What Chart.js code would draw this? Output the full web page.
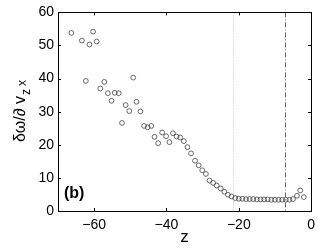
<!DOCTYPE html>
<html>
<head>
<meta charset="utf-8">
<script src="https://cdn.jsdelivr.net/npm/chart.js@4/dist/chart.umd.min.js"></script>
<style>
  html, body { margin: 0; padding: 0; background: #fff; }
  #wrap { width: 321px; height: 249px; }
</style>
</head>
<body>
<div id="wrap"><canvas id="myChart" width="321" height="249"></canvas></div>
<script>
// z positions
const zValues = [-66.3, -63.4, -62.3, -61.3, -60.3, -59.3, -58.3, -57.2, -56.2, -55.2,
  -54.3, -53.2, -52.3, -51.3, -50.3, -49.2, -48.3, -47.2, -46.2, -45.2,
  -44.2, -43.3, -42.3, -41.2, -40.1, -39.2, -38.2, -37.2, -36.2, -35.2,
  -34.2, -33.2, -32.1, -31.1, -30.1, -29.1, -28.1, -27.1, -26.1, -25.0,
  -24.0, -23.0, -22.0, -21.0, -20.0, -19.0, -18.0, -17.0, -16.0, -15.0,
  -14.0, -13.0, -12.0, -11.0, -10.0, -9.0, -8.0, -7.0, -6.0, -5.0,
  -3.9, -3.0, -2.0];
// dω/∂z vx values
const gradValues = [53.8, 51.5, 39.3, 50.3, 54.2, 51.2, 37.0, 39.0, 35.6, 33.3,
  35.7, 35.6, 26.6, 32.0, 30.2, 40.3, 33.0, 30.1, 25.7, 25.3,
  25.7, 22.4, 20.5, 23.7, 22.6, 20.8, 23.5, 22.5, 22.2, 21.1,
  19.3, 17.4, 15.2, 13.8, 12.3, 11.2, 9.2, 8.5, 7.7, 6.8,
  5.8, 4.9, 4.4, 3.9, 3.7, 3.7, 3.6, 3.6, 3.6, 3.5,
  3.5, 3.5, 3.5, 3.4, 3.4, 3.4, 3.4, 3.4, 3.4, 3.6,
  4.6, 6.2, 4.2];
const xTicks = [-60, -40, -20, 0];
const yTicks = [0, 10, 20, 30, 40, 50, 60];
const dottedLineZ = -21.6;
const dashDotLineZ = -7.3;

const points = zValues.map((z, i) => ({ x: z, y: gradValues[i] }));

// frame, inward ticks, reference lines and labels
const framePlugin = {
  id: 'frame',
  beforeDatasetsDraw(chart) {
    const ctx = chart.ctx;
    const a = chart.chartArea;
    const xs = chart.scales.x;
    ctx.save();
    // dotted line
    let px = Math.round(xs.getPixelForValue(dottedLineZ)) + 0.5;
    ctx.strokeStyle = '#c0c0c0';
    ctx.lineWidth = 1;
    ctx.setLineDash([1, 2]);
    ctx.beginPath(); ctx.moveTo(px, a.top); ctx.lineTo(px, a.bottom); ctx.stroke();
    // dash-dot line
    px = Math.round(xs.getPixelForValue(dashDotLineZ)) + 0.5;
    ctx.strokeStyle = '#666';
    ctx.setLineDash([5, 2, 1, 2]);
    ctx.beginPath(); ctx.moveTo(px, a.top); ctx.lineTo(px, a.bottom); ctx.stroke();
    ctx.restore();
  },
  afterDraw(chart) {
    const ctx = chart.ctx;
    const a = chart.chartArea;
    const xs = chart.scales.x;
    const ys = chart.scales.y;
    ctx.save();
    ctx.strokeStyle = '#000';
    ctx.lineWidth = 1;
    ctx.strokeRect(Math.round(a.left) + 0.5, Math.round(a.top) + 0.5,
      Math.round(a.right - a.left), Math.round(a.bottom - a.top));
    ctx.beginPath();
    xTicks.forEach(v => {
      const p = Math.round(xs.getPixelForValue(v)) + 0.5;
      ctx.moveTo(p, a.bottom); ctx.lineTo(p, a.bottom - 3);
      ctx.moveTo(p, a.top); ctx.lineTo(p, a.top + 3);
    });
    yTicks.forEach(v => {
      const p = Math.round(ys.getPixelForValue(v)) + 0.5;
      ctx.moveTo(a.left, p); ctx.lineTo(a.left + 3, p);
      ctx.moveTo(a.right, p); ctx.lineTo(a.right - 3, p);
    });
    ctx.stroke();

    // panel label
    ctx.fillStyle = '#000';
    ctx.font = 'bold 16px "Liberation Sans", Arial, sans-serif';
    ctx.textBaseline = 'middle';
    ctx.textAlign = 'left';
    ctx.fillText('(b)', 64, 194);

    // x title
    ctx.font = '17px "Liberation Sans", Arial, sans-serif';
    ctx.textAlign = 'center';
    ctx.fillText('z', (a.left + a.right) / 2, 237);

    // y title, rotated, with subscripts
    ctx.translate(20, 111);
    ctx.rotate(-Math.PI / 2);
    ctx.textAlign = 'left';
    ctx.textBaseline = 'alphabetic';
    const main = 'δω/∂ v';
    ctx.font = '16px "Liberation Sans", Arial, sans-serif';
    const wMain = ctx.measureText(main).width;
    ctx.font = '12px "Liberation Sans", Arial, sans-serif';
    const wz = ctx.measureText('z').width;
    const wx = ctx.measureText('x').width;
    const total = wMain + 1 + wz + 3 + wx;
    let x0 = -total / 2;
    ctx.font = '16px "Liberation Sans", Arial, sans-serif';
    ctx.fillText(main, x0, 5);
    ctx.font = '12px "Liberation Sans", Arial, sans-serif';
    ctx.fillText('z', x0 + wMain + 1, 10);
    ctx.fillText('x', x0 + wMain + 1 + wz + 3, 6);
    ctx.restore();
  }
};

new Chart(document.getElementById('myChart'), {
  type: 'scatter',
  data: {
    datasets: [{
      data: points,
      pointStyle: 'circle',
      pointRadius: 2.4,
      pointBorderWidth: 0.8,
      pointBorderColor: '#444',
      pointBackgroundColor: 'rgba(0,0,0,0)'
    }]
  },
  options: {
    responsive: false,
    animation: false,
    devicePixelRatio: 1,
    layout: { padding: { left: 0, right: 7, top: 11, bottom: 0 } },
    plugins: { legend: { display: false }, tooltip: { enabled: false } },
    scales: {
      x: {
        type: 'linear',
        min: -70,
        max: 0,
        afterFit(scale) { scale.height = 38; },
        afterBuildTicks(scale) { scale.ticks = xTicks.map(v => ({ value: v })); },
        grid: { display: false, drawTicks: false },
        border: { display: false },
        ticks: {
          color: '#000',
          padding: 6,
          font: { family: '"Liberation Sans", Arial, sans-serif', size: 14 },
          callback: v => (v < 0 ? '\u2212' + Math.abs(v) : String(v))
        }
      },
      y: {
        type: 'linear',
        min: 0,
        max: 60,
        afterFit(scale) { scale.width = 58; },
        afterBuildTicks(scale) { scale.ticks = yTicks.map(v => ({ value: v })); },
        grid: { display: false, drawTicks: false },
        border: { display: false },
        ticks: {
          color: '#000',
          padding: 4,
          font: { family: '"Liberation Sans", Arial, sans-serif', size: 14 }
        }
      }
    }
  },
  plugins: [framePlugin]
});
</script>
</body>
</html>
